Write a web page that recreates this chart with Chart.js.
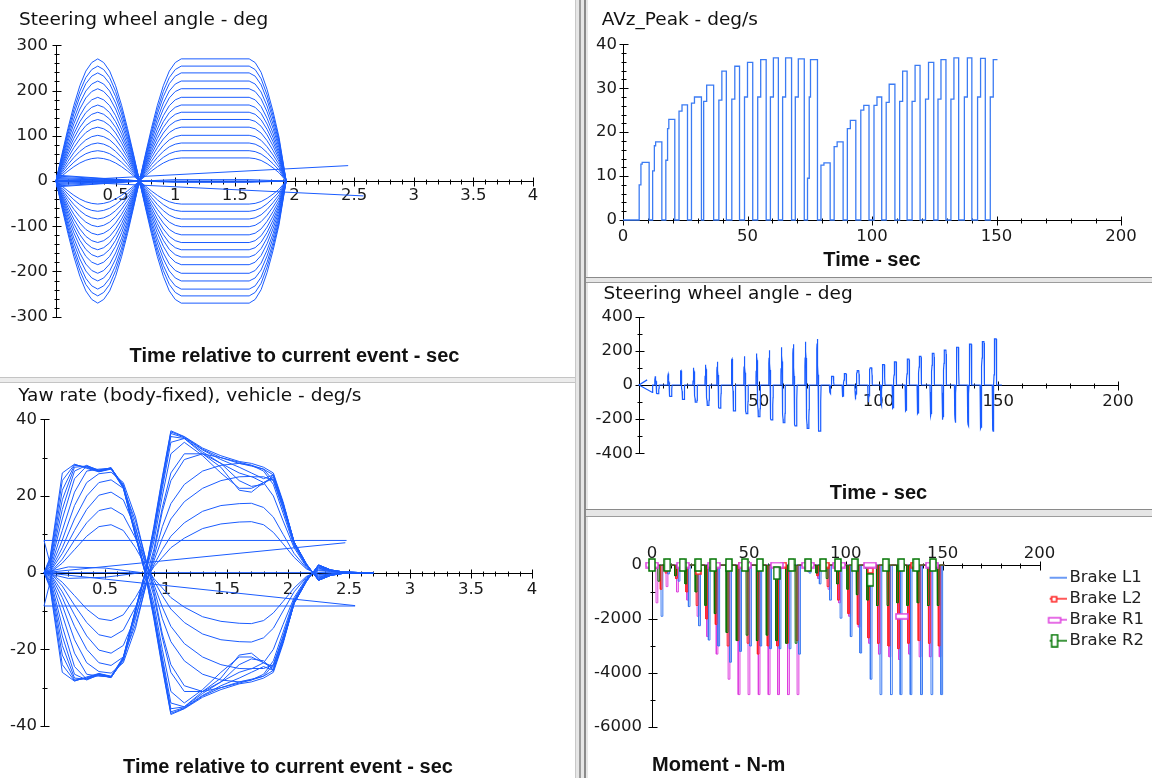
<!DOCTYPE html>
<html>
<head>
<meta charset="utf-8">
<script src="https://cdn.jsdelivr.net/npm/chart.js@4.4.1/dist/chart.umd.min.js"></script>
<style>
  html, body { margin:0; padding:0; width:1152px; height:778px; overflow:hidden; background:#fff; }
  canvas { position:absolute; display:block; }
  .sep { position:absolute; box-sizing:border-box; }
</style>
</head>
<body>
<canvas id="cA" style="left:0;top:0" width="575" height="377"></canvas>
<canvas id="cB" style="left:0;top:383px" width="575" height="395"></canvas>
<canvas id="cC" style="left:588px;top:0" width="564" height="277"></canvas>
<canvas id="cD" style="left:588px;top:283px" width="564" height="226"></canvas>
<canvas id="cE" style="left:588px;top:517px" width="564" height="261"></canvas>
<div class="sep" style="left:0;top:377px;width:576px;height:6px;background:#ececec;border-top:1px solid #c4c4c4;border-bottom:1px solid #c4c4c4"></div>
<div class="sep" style="left:575px;top:0;width:13px;height:778px;background:#e6e6e6;border-left:1px solid #c8c8c8"></div>
<div class="sep" style="left:579px;top:0;width:2px;height:778px;background:#9c9c9c"></div>
<div class="sep" style="left:584px;top:0;width:2px;height:778px;background:#8a8a8a"></div>
<div class="sep" style="left:586px;top:277px;width:566px;height:6px;background:#e6e6e6;border-top:1px solid #8a8a8a;border-bottom:1px solid #9c9c9c"></div>
<div class="sep" style="left:586px;top:509px;width:566px;height:8px;background:#e6e6e6;border-top:1px solid #8a8a8a;border-bottom:1px solid #9c9c9c"></div>
<script>
// ===================== DATA =====================
// Panel A: steering wheel angle vs time relative to current event
const SWA_AMPLITUDES = [51, 67, 84, 101, 119, 136, 152, 168, 185, 204, 221, 239, 254, 270]; // deg
const FIRST_STEER_DIRECTIONS = [1, -1];
const SWA_SHAPE_T = [0, 0.05, 0.1, 0.15, 0.2, 0.25, 0.3, 0.35, 0.4, 0.45, 0.5, 0.55, 0.6, 0.65, 0.7,
  0.75, 0.8, 0.85, 0.9, 0.95, 1.0, 1.05, 1.62, 1.67, 1.72, 1.77, 1.82, 1.87, 1.93];
const SWA_SHAPE_V = [0, 0.22, 0.43, 0.62, 0.78, 0.9, 0.97, 1, 0.97, 0.9, 0.78, 0.62, 0.43, 0.22, 0,
  -0.22, -0.43, -0.62, -0.78, -0.9, -0.97, -1, -1, -0.97, -0.89, -0.75, -0.57, -0.36, 0];
const SWA_EVENT_EXTRAS = [
  [[0, 0], [2.45, 34]],
  [[0, 0], [2.58, -33]],
  [[0, 13], [0.72, 0]], [[0, 11], [0.72, 0]], [[0, 8], [0.72, 0]], [[0, 5.5], [0.72, 0]],
  [[0, 3], [0.72, 0]], [[0, 1], [0.72, 0]],
  [[0, -1], [0.72, 0]], [[0, -3], [0.72, 0]], [[0, -5.5], [0.72, 0]], [[0, -8], [0.72, 0]],
  [[0, -11], [0.72, 0]], [[0, -13], [0.72, 0]],
  [[0.72, 0], [1.0, -3], [1.62, -3], [1.93, 0]],
  [[0.72, 0], [1.0, -1.5], [1.62, -1.5], [1.93, 0]],
  [[0.72, 0], [1.0, 3], [1.62, 3], [1.93, 0]],
  [[0, 0], [1.93, 0]]
];

// Panel B: yaw rate vs time relative to current event
const YAW_T = [0, 0.05, 0.15, 0.25, 0.35, 0.45, 0.55, 0.65, 0.75, 0.83, 0.9, 0.97, 1.04, 1.15, 1.3,
  1.45, 1.6, 1.7, 1.8, 1.88, 1.96, 2.05, 2.15, 2.25, 2.35, 2.45, 2.6, 2.7];
const YAW_C1 = [0, 0, 2.5, 6, 9.5, 12, 12.5, 11, 6.5, 2, -1.5, -4, -6.5, -9, -11.5, -12.7, -13.2, -13.3, -12.5, -10.5, -7.5, -4, -1, 0.5, 0.3, 0, 0, 0];
const YAW_C2 = [0, 0, 3.5, 8.5, 13, 16.2, 16.9, 15, 9, 3, -2, -6, -9.5, -13, -16, -17.5, -18, -18.1, -17, -14.5, -10, -5, -1.2, 0.7, 0.4, 0, 0, 0];
const YAW_C3 = [0, 0.2, 5, 11, 16.5, 20.2, 21, 19, 11.5, 3.5, -3, -9, -14, -18.5, -22, -24, -25, -25.1, -23.5, -20, -13.5, -6.5, -1.5, 1, 0.5, 0, 0, 0];
const YAW_C4 = [0, 0.4, 6.5, 14, 20, 23.5, 24.2, 22, 13.5, 4, -4, -12, -18, -23, -26.5, -28, -28.5, -28, -26.5, -23, -15.5, -7, -1.8, 1.2, 0.5, 0, 0, 0];
const YAW_C5 = [0, 0.7, 8.5, 17.5, 23.5, 25.8, 26.2, 23.5, 14.5, 4, -5, -16, -24, -29.5, -31, -30, -28.8, -28, -27, -24, -16.5, -7.5, -2, 1.4, 0.6, 0, 0, 0];
const YAW_C6 = [0, 1, 11, 21, 26.5, 27, 27.2, 23, 12, 2, -6, -17, -26, -31, -31, -28.5, -26, -25, -25, -24, -17, -7.5, -2, 1.6, 0.6, 0, 0, 0];
const YAW_C7 = [0, 1.5, 14, 24.5, 27.8, 26.8, 27.3, 22.5, 10.5, 0.5, -8, -20, -31, -34, -30.5, -26, -22, -22, -23.5, -24.5, -17.5, -7.5, -2, 1.8, 0.6, 0.2, 0, 0];
const YAW_C8 = [0, 2, 16.5, 26.5, 28, 26.6, 27.4, 22.5, 10, 0.3, -9.5, -22, -34, -35, -31, -27.5, -21.5, -21, -23.5, -25, -18, -8, -2.2, 1.9, 0.7, 0.2, 0, 0];
const YAW_C9 = [0, 2.5, 19, 27.5, 27.8, 26.5, 27.3, 22.5, 10, 0, -10.5, -23, -35.5, -35, -31.5, -28.5, -24, -22.5, -23, -25.5, -18, -8, -2.2, 2, 0.7, 0.2, 0, 0];
const YAW_C10 = [0, 3, 21.5, 28, 27.6, 26.4, 27.2, 22.3, 9.8, 0, -11, -24, -36.3, -35.2, -32, -29.5, -27.5, -26, -24.5, -25.5, -18, -8, -2.3, 2, 0.7, 0.2, 0, 0];
const YAW_C11 = [0, 3.5, 24, 28.2, 27.4, 26.4, 27.1, 22.2, 9.6, -0.2, -11.5, -24.5, -36.7, -35.4, -32.2, -30, -28.5, -27.8, -27, -25.5, -18, -8, -2.3, 2, 0.7, 0.2, 0, 0];
const YAW_C12 = [0, 4, 26, 28.3, 27.2, 26.3, 27, 22, 9.5, -0.3, -12, -25, -37, -35.5, -32.5, -30.5, -29, -28.5, -27.5, -26, -18.5, -8, -2.4, 2, 0.7, 0.2, 0, 0];
const YAW_CURVES = [YAW_C1, YAW_C2, YAW_C3, YAW_C4, YAW_C5, YAW_C6, YAW_C7, YAW_C8, YAW_C9, YAW_C10, YAW_C11, YAW_C12];
const YAW_EXTRAS = [
  [[0, 0], [2.47, 7.8]],
  [[0, 0], [2.55, -8.6]],
  [[0, 8.4], [2.48, 8.4]],
  [[0, -8.7], [2.55, -8.7]],
  [[0, 8.4], [0.07, 0]],
  [[0, -8.7], [0.07, 0]],
  [[0, 0], [0.2, 1.5], [0.5, 1.2], [0.8, 0]],
  [[0, 0], [0.2, -1.5], [0.5, -1.2], [0.8, 0]],
  [[0, 0], [2.7, 0]]
];

// Maneuver sequence (time history panels)
const MANEUVER_START_T = [6.5, 11.9, 17.2, 22.5, 27.5, 32.4, 38.5, 43.7, 48.8, 54.1, 59.2, 64.1, 69.2, 74.1,
  79.5, 84.8, 90.1, 95.5, 100.8, 105.7, 111.1, 116.1, 121.5, 126.5, 131.7, 137.1, 142.4, 147.5];
const MANEUVER_AMPLITUDE = [51, 67, 84, 101, 119, 136, 152, 168, 185, 204, 221, 239, 254, 270,
  51, 67, 84, 101, 119, 136, 152, 168, 185, 204, 221, 239, 254, 270];
const MANEUVER_FIRST_DIR = [1, 1, 1, 1, 1, 1, 1, 1, 1, 1, 1, 1, 1, 1,
  -1, -1, -1, -1, -1, -1, -1, -1, -1, -1, -1, -1, -1, -1];
const SWA_RAMPS = [[0, 0], [3.4, 30], [0, 0], [5.6, -44], [5.7, 0]];
const SWA_END_T = 151.5;

// Panel C: AVz_Peak
const AVZ_FALL_T = [10.5, 15.6, 20.8, 25.9, 31.5, 36.4, 41.5, 46.8, 52.1, 57.5, 62.4, 67.7, 72.8, 78.1,
  83.2, 88.4, 93.5, 98.8, 103.9, 109.2, 114.1, 119.3, 124.8, 129.7, 134.8, 140.1, 145.5, 150.4];
const AVZ_STEP1 = [8, 11.2, 13.6, 24.8, 26.6, 27, 27.3, 27.5, 28, 28, 28, 28, 28, 9.5,
  12.5, 16.7, 20.8, 25, 26.1, 26.8, 27, 27, 27.5, 27.5, 27.5, 28, 28, 28];
const AVZ_STEP2 = [12.7, 16.9, 20.8, 24.8, 26.6, 27, 27.3, 27.5, 28, 28, 28, 28, 28, 28,
  12.5, 16.7, 20.8, 25, 26.1, 26.8, 27, 27, 27.5, 27.5, 27.5, 28, 28, 28];
const AVZ_PEAK = [13.1, 17.8, 22.9, 26.2, 28, 30.7, 33.9, 35, 35.9, 36.5, 36.9, 36.9, 36.7, 36.5,
  13, 17.8, 22.7, 26.1, 28, 30.9, 33.9, 35.2, 35.9, 36.5, 36.9, 36.9, 36.8, 36.5];

// Panel E: brake moments (N-m)
const BRAKE_NAMES = ['Brake L1', 'Brake L2', 'Brake R1', 'Brake R2'];
const BRAKE_L1_DEPTH = [-330, -600, -1540, -2250, -2780, -3000, -3600, -3200, -3000, -3000, -3100, -3100, -3100, -3300,
  -300, -700, -1300, -1970, -2650, -3260, -4230, -4800, -4800, -4800, -4800, -4800, -4800, -4800];
const BRAKE_L2_DEPTH = [-300, -500, -1000, -1500, -2000, -2200, -3000, -2800, -2900, -3300, -3000, -3000, -2900, -2800,
  -200, -400, -800, -1300, -1800, -2200, -2700, -2900, -3000, -3100, -2900, -2800, -2900, -3000];
const BRAKE_R1_DEPTH = [-800, -1000, -1300, -1900, -2650, -3300, -4230, -4800, -4800, -4800, -4800, -4800, -4800, -4800,
  -250, -500, -900, -1400, -1900, -2300, -2900, -3300, -3400, -3500, -3300, -3400, -3400, -3400];
const BRAKE_R2_DEPTH = [-200, -400, -700, -1000, -1500, -1800, -2500, -2800, -2600, -2800, -2600, -2800, -2900, -2900,
  -150, -300, -500, -700, -900, -1100, -1300, -1500, -1500, -1400, -1500, -1400, -1500, -1500];
const BRAKE_L1_DELAY = 1.5, BRAKE_L2_DELAY = 0.2, BRAKE_R1_DELAY = 0.7, BRAKE_R2_DELAY = -0.3;
const BRAKE_L1_EARLY = [[4.6, -1900]];
const BRAKE_L2_EARLY = [[4.2, -900]];
const BRAKE_R1_EARLY = [[2.0, -1400]];
const BRAKE_R2_EARLY = [[3.0, -600]];
const BRAKE_END_T = 151;
const L2_MARK_T = [1, 23.9, 46, 68, 90, 112.7, 135];
const L2_MARK_V = [0, -250, 0, 0, 0, -200, 0];
const R1_MARK_T = [0, 16, 32, 48, 64.5, 80.5, 96.5, 112.5, 129, 144.5];
const R1_MARK_V = [0, 0, 0, 0, 0, 0, 0, 0, -1900, 0];
const R2_MARK_T = [0, 7.9, 15.8, 23.9, 31.6, 39.7, 47.9, 55.7, 64.3, 72, 80.6, 88.3, 96, 104.6, 112.7, 120.6, 128.7, 136.4, 145];
const R2_MARK_V = [0, 0, 0, 0, 0, 0, 0, 0, -300, 0, 0, 0, 0, 0, -550, 0, 0, 0, 0];

// ===================== STYLE / RENDER =====================
const BLUE = '#1a5cff';
const AVZ_BLUE = '#3b7bf3';
const C_L1 = '#3b7af2', C_L2 = '#ff2222', C_R1 = '#de3fde', C_R2 = '#007400';

Chart.defaults.font.family = "'DejaVu Sans', sans-serif";
Chart.defaults.color = '#111';

const axisTicks = {
  id: 'axisTicks',
  afterLayout(chart) {
    // let the left tick labels extend to the canvas edge (they are right-aligned to the axis)
    if (chart.scales.y) chart.scales.y.left = 0;
  },
  beforeDatasetsDraw(chart, args, o) {
    if (!o || !o.xMinor) return;
    const ctx = chart.ctx, a = chart.chartArea;
    const xs = chart.scales.x, ys = chart.scales.y;
    const r = v => Math.round(v) + 0.5;
    const axY = r(o.xAt === 'top' ? a.top : o.xAt === 'bottom' ? a.bottom : ys.getPixelForValue(0));
    const axX = r(a.left);
    ctx.save();
    ctx.strokeStyle = '#000';
    ctx.lineWidth = 1;
    ctx.beginPath();
    ctx.moveTo(axX, axY); ctx.lineTo(Math.round(a.right) + 1, axY);
    ctx.moveTo(axX, Math.round(a.top)); ctx.lineTo(axX, Math.round(a.bottom) + 1);
    const nx = Math.round((xs.max - xs.min) / o.xMinor);
    for (let i = 0; i <= nx; i++) {
      const v = xs.min + i * o.xMinor;
      const q = v / o.xMajor;
      const len = Math.abs(q - Math.round(q)) < 1e-6 ? 4 : 2;
      const p = r(xs.getPixelForValue(v));
      ctx.moveTo(p, axY - len); ctx.lineTo(p, axY + len + 1);
    }
    const ny = Math.round((ys.max - ys.min) / o.yMinor);
    for (let i = 0; i <= ny; i++) {
      const v = ys.min + i * o.yMinor;
      const q = v / o.yMajor;
      const len = Math.abs(q - Math.round(q)) < 1e-6 ? 4 : 2;
      const p = r(ys.getPixelForValue(v));
      ctx.moveTo(axX - len, p); ctx.lineTo(axX + len + 1, p);
    }
    ctx.stroke();
    ctx.restore();
  }
};
Chart.register(axisTicks);

const TICK_FONT = { family: "'DejaVu Sans', sans-serif", size: 16.5 };

function ds(points, color, width) {
  return { data: points.map(p => ({ x: p[0], y: p[1] })), borderColor: color, backgroundColor: color,
    borderWidth: width || 1, pointRadius: 0, tension: 0, fill: false, clip: 4 };
}

function makeChart(id, g, datasets) {
  const tLH = 18.5 * 1.2, sLH = 20;
  const hasTitle = !!g.title;
  const padLeft = hasTitle ? g.titleX : 0;
  const xH = g.xAt === 'top' ? g.top : (g.xAt === 'bottom' ? g.xH : 0);
  const tPadTop = hasTitle ? Math.max(0, g.titleMid - tLH / 2) : 0;
  const options = {
    responsive: false, animation: false, events: [],
    layout: { padding: { left: padLeft, right: g.legend ? 0 : g.W - g.right, top: 0, bottom: 0 } },
    plugins: {
      legend: g.legend || { display: false },
      tooltip: { enabled: false },
      title: hasTitle ? { display: true, text: g.title, align: 'start', color: '#111',
        font: { family: "'DejaVu Sans', sans-serif", size: 18.5, weight: 'normal', lineHeight: 1.2 },
        padding: { top: tPadTop, bottom: g.top - tPadTop - tLH } } : { display: false },
      subtitle: { display: true, text: g.sub, position: 'bottom', fullSize: false, align: g.subAlign || 'center', color: '#111',
        font: { family: "'Liberation Sans', Arial, sans-serif", size: 20, weight: 'bold', lineHeight: 1 },
        padding: { top: g.subMid - (g.bottom + (g.xAt === 'bottom' ? xH : 0)) - sLH / 2, bottom: g.H - g.subMid - sLH / 2 } },
      axisTicks: { xAt: g.xAt, xMajor: g.x.step, xMinor: g.x.minor, yMajor: g.y.step, yMinor: g.y.minor }
    },
    scales: {
      x: { type: 'linear', min: g.x.min, max: g.x.max, position: g.xAt === 'zero' ? { y: 0 } : g.xAt,
        grid: { display: false, drawTicks: false }, border: { display: false },
        ticks: { stepSize: g.x.step, padding: g.xPad, autoSkip: false, maxRotation: 0, color: '#1a1a1a', font: TICK_FONT,
          callback: v => (v === 0 && g.hideX0) ? '' : String(v) },
        afterFit: s => { s.height = xH; } },
      y: { type: 'linear', min: g.y.min, max: g.y.max, position: 'left',
        grid: { display: false, drawTicks: false }, border: { display: false },
        ticks: { stepSize: g.y.step, padding: g.yPad, autoSkip: false, color: '#1a1a1a', font: TICK_FONT,
          callback: v => String(v) },
        afterFit: s => { s.width = g.left - padLeft; } }
    }
  };
  return new Chart(document.getElementById(id), { type: 'line', data: { datasets }, options });
}

// ---- Panel A
const dsA = [];
FIRST_STEER_DIRECTIONS.forEach(dir => SWA_AMPLITUDES.forEach(a =>
  dsA.push(ds(SWA_SHAPE_T.map((t, j) => [t, dir * a * SWA_SHAPE_V[j]]), BLUE))));
SWA_EVENT_EXTRAS.forEach(p => dsA.push(ds(p, BLUE)));
makeChart('cA', { W: 575, H: 377, title: 'Steering wheel angle - deg', titleX: 19, titleMid: 20.5,
  left: 56, right: 533, top: 45.3, bottom: 316.7, sub: 'Time relative to current event - sec', subMid: 356.5,
  xAt: 'zero', xPad: 5, yPad: 8, hideX0: true,
  x: { min: 0, max: 4, step: 0.5, minor: 0.1 }, y: { min: -300, max: 300, step: 100, minor: 20 } }, dsA);

// ---- Panel B
const dsB = [];
FIRST_STEER_DIRECTIONS.forEach(dir => YAW_CURVES.forEach(c =>
  dsB.push(ds(YAW_T.map((t, j) => [t, dir * c[j]]), BLUE))));
YAW_EXTRAS.forEach(p => dsB.push(ds(p, BLUE)));
makeChart('cB', { W: 575, H: 395, title: 'Yaw rate (body-fixed), vehicle - deg/s', titleX: 18.3, titleMid: 13.5,
  left: 44, right: 532, top: 36.3, bottom: 343, sub: 'Time relative to current event - sec', subMid: 384,
  xAt: 'zero', xPad: 7, yPad: 7, hideX0: true,
  x: { min: 0, max: 4, step: 0.5, minor: 0.1 }, y: { min: -40, max: 40, step: 20, minor: 10 } }, dsB);

// ---- Panel C
const avzPts = [[0, 0]];
MANEUVER_START_T.forEach((r, i) => {
  avzPts.push([r, 0], [r, AVZ_STEP1[i]], [r + 0.7, AVZ_STEP1[i]], [r + 0.7, AVZ_STEP2[i]],
    [r + 1.2, AVZ_STEP2[i]], [r + 1.2, AVZ_PEAK[i]], [AVZ_FALL_T[i], AVZ_PEAK[i]]);
  if (i < MANEUVER_START_T.length - 1) avzPts.push([AVZ_FALL_T[i], 0]);
});
makeChart('cC', { W: 564, H: 277, title: 'AVz_Peak - deg/s', titleX: 13.7, titleMid: 20.5,
  left: 35, right: 533, top: 44.3, bottom: 220, sub: 'Time - sec', subMid: 260,
  xAt: 'bottom', xH: 25, xPad: 6.8, yPad: 6, hideX0: false,
  x: { min: 0, max: 200, step: 50, minor: 10 }, y: { min: 0, max: 40, step: 10, minor: 2 } },
  [ds(avzPts, AVZ_BLUE, 1.3)]);

// ---- Panel D
const swaPts = SWA_RAMPS.slice();
MANEUVER_START_T.forEach((t0, i) => SWA_SHAPE_T.forEach((t, j) =>
  swaPts.push([t0 + t, MANEUVER_FIRST_DIR[i] * MANEUVER_AMPLITUDE[i] * SWA_SHAPE_V[j]])));
swaPts.push([SWA_END_T, 0]);
makeChart('cD', { W: 564, H: 226, title: 'Steering wheel angle - deg', titleX: 15.6, titleMid: 10.8,
  left: 51, right: 530, top: 33.7, bottom: 170.3, sub: 'Time - sec', subMid: 210,
  xAt: 'zero', xPad: 6.8, yPad: 6, hideX0: true,
  x: { min: 0, max: 200, step: 50, minor: 10 }, y: { min: -400, max: 400, step: 200, minor: 100 } },
  [ds(swaPts, BLUE, 1.2)]);

// ---- Panel E
function brakePts(early, depths, delay) {
  const pts = [[0, 0]];
  early.forEach(([t, d]) => pts.push([t, 0], [t + 0.1, d], [t + 0.9, d], [t + 1.0, 0]));
  MANEUVER_START_T.forEach((t0, i) => {
    const t = t0 + delay;
    pts.push([t, 0], [t + 0.1, depths[i]], [t + 0.9, depths[i]], [t + 1.0, 0]);
  });
  pts.push([BRAKE_END_T, 0]);
  return pts;
}
function markerCanvas(w, h, color) {
  const c = document.createElement('canvas');
  c.width = w + 2; c.height = h + 2;
  const g = c.getContext('2d');
  g.fillStyle = '#fff'; g.fillRect(1, 1, w, h);
  g.strokeStyle = color; g.lineWidth = 1.5; g.strokeRect(1, 1, w, h);
  return c;
}
function legendIcon(color, mark) {
  const c = document.createElement('canvas');
  c.width = 28; c.height = 14;
  const g = c.getContext('2d');
  g.strokeStyle = color; g.lineWidth = 1.5;
  g.beginPath(); g.moveTo(11, 7); g.lineTo(28, 7); g.stroke();
  if (mark) g.drawImage(mark, Math.round(15.5 - mark.width / 2), Math.round(7 - mark.height / 2));
  return c;
}
const MK_L2 = markerCanvas(5, 5, C_L2);
const MK_R1 = markerCanvas(12, 5, C_R1);
const MK_R2 = markerCanvas(6, 12, C_R2);
const ICONS = [legendIcon(C_L1, null), legendIcon(C_L2, MK_L2), legendIcon(C_R1, MK_R1), legendIcon(C_R2, MK_R2)];
function markerDs(ts, vs, img, color) {
  return { data: ts.map((t, i) => ({ x: t, y: vs[i] })), showLine: false, pointStyle: img, pointRadius: 5,
    borderColor: color, backgroundColor: '#fff', clip: false };
}
const dsE = [
  markerDs(R2_MARK_T, R2_MARK_V, MK_R2, C_R2),
  markerDs(R1_MARK_T, R1_MARK_V, MK_R1, C_R1),
  markerDs(L2_MARK_T, L2_MARK_V, MK_L2, C_L2),
  ds(brakePts(BRAKE_R2_EARLY, BRAKE_R2_DEPTH, BRAKE_R2_DELAY), C_R2),
  ds(brakePts(BRAKE_L2_EARLY, BRAKE_L2_DEPTH, BRAKE_L2_DELAY), C_L2),
  ds(brakePts(BRAKE_L1_EARLY, BRAKE_L1_DEPTH, BRAKE_L1_DELAY), C_L1),
  ds(brakePts(BRAKE_R1_EARLY, BRAKE_R1_DEPTH, BRAKE_R1_DELAY), C_R1)
];
makeChart('cE', { W: 564, H: 261, left: 64, right: 451.5, top: 48, bottom: 210,
  sub: 'Moment - N-m', subMid: 248.5, subAlign: 'start',
  xAt: 'top', xPad: 1, yPad: 10, hideX0: false,
  x: { min: 0, max: 200, step: 50, minor: 10 }, y: { min: -6000, max: 0, step: 2000, minor: 1000 },
  legend: { display: true, position: 'right', align: 'start', fullSize: false, maxWidth: 112.5,
    labels: { usePointStyle: true, pointStyleWidth: 17.25, padding: 4.5, color: '#222',
      font: { family: "'DejaVu Sans', sans-serif", size: 16.5 },
      generateLabels: () => BRAKE_NAMES.map((n, i) => ({ text: n, pointStyle: ICONS[i],
        fillStyle: 'rgba(0,0,0,0)', strokeStyle: 'rgba(0,0,0,0)', lineWidth: 0, hidden: false,
        datasetIndex: i, fontColor: '#222' })) } } }, dsE);
</script>
</body>
</html>
